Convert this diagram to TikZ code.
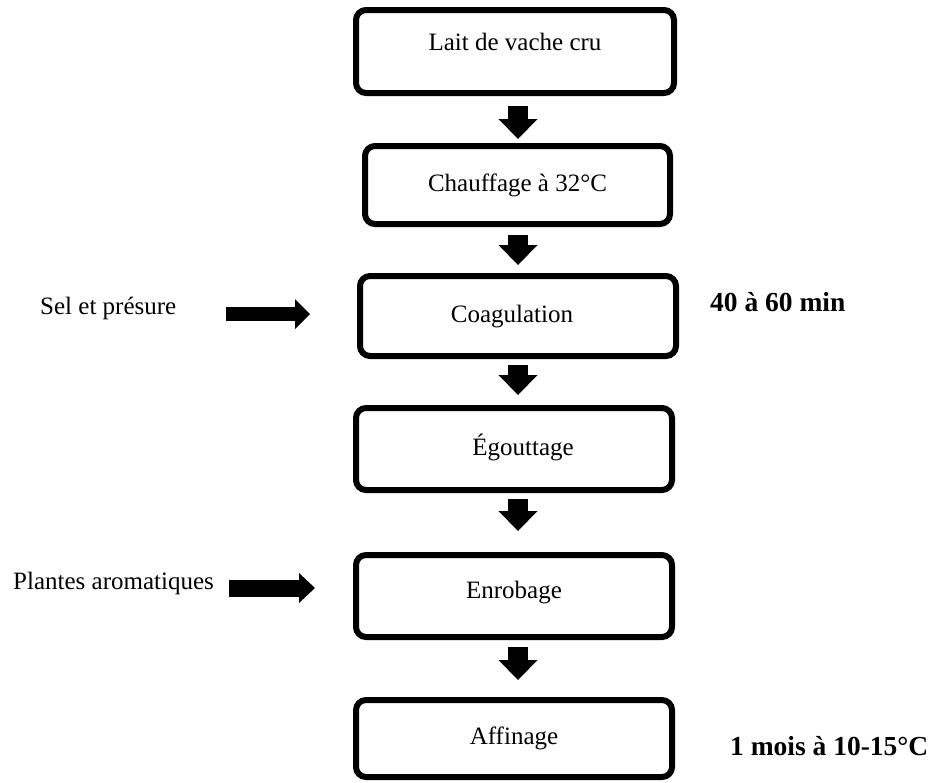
\documentclass[tikz,border=0pt]{standalone}
\usepackage{fontspec}
\setmainfont{Liberation Serif}
\usetikzlibrary{arrows.meta,calc}
\begin{document}
\begin{tikzpicture}[x=1pt,y=-1pt,
  stepbox/.style={draw, line width=6pt, rounded corners=10pt, inner sep=0pt,
    font=\fontsize{25}{30}\selectfont, text height=17pt, text depth=5pt, align=center},
  lbl/.style={inner sep=0pt, anchor=west, font=\fontsize{25}{30}\selectfont,
    text height=17pt, text depth=5pt},
  blbl/.style={lbl, font=\fontsize{27.5}{32}\selectfont\bfseries, text height=18pt, text depth=6pt},
  downarrow/.style={line width=20pt, -{Triangle[width=39pt,length=20pt,line width=0pt]}},
  sidearrowA/.style={line width=14pt, -{Triangle[width=30pt,length=15pt,line width=0pt]}},
  sidearrowB/.style={line width=17pt, -{Triangle[width=30pt,length=16pt,line width=0pt]}}
]
\useasboundingbox (0,0) rectangle (931,782);

\node[stepbox, minimum width=318pt, minimum height=83pt, text depth=20pt] (b1) at (515,51.5) {Lait de vache cru};
\node[stepbox, minimum width=305pt, minimum height=78pt] (b2) at (517.5,185) {Chauffage à 32°C};
\node[stepbox, minimum width=316pt, minimum height=80pt] (b3) at (518,316) {Coagulation\hspace*{12pt}};
\node[stepbox, minimum width=316pt, minimum height=82pt] (b4) at (514,449) {\hspace*{18pt}Égouttage};
\node[stepbox, minimum width=316pt, minimum height=82pt, text depth=13pt] (b5) at (514,596) {Enrobage};
\node[stepbox, minimum width=316pt, minimum height=77pt] (b6) at (514,738.5) {Affinage};

\coordinate (ax) at (518,0);
\draw[downarrow, shorten <=10pt, shorten >=4pt] (b1.south -| ax) -- (b2.north -| ax);
\draw[downarrow, shorten <=8pt, shorten >=8pt] (b2.south -| ax) -- (b3.north -| ax);
\draw[downarrow, shorten <=6pt, shorten >=10pt] (b3.south -| ax) -- (b4.north -| ax);
\draw[downarrow, shorten <=6pt, shorten >=21pt] (b4.south -| ax) -- (b5.north -| ax);
\draw[downarrow, shorten <=7pt, shorten >=17pt] (b5.south -| ax) -- (b6.north -| ax);

\node[lbl] (sel) at (40,308) {Sel et présure};
\node[lbl] (pl) at (13,583) {Plantes aromatiques};
\node[blbl] (t1) at (710,305) {40 à 60 min};
\node[blbl] (t2) at (730,749) {1 mois à 10-15°C};

\coordinate (s1) at ($(sel.east)+(0,6)$);
\draw[sidearrowA, shorten <=50pt, shorten >=47pt] (s1) -- (s1 -| b3.west);
\coordinate (s2) at ($(pl.east)+(0,5)$);
\draw[sidearrowB, shorten <=15pt, shorten >=38pt] (s2) -- (s2 -| b5.west);
\end{tikzpicture}
\end{document}
